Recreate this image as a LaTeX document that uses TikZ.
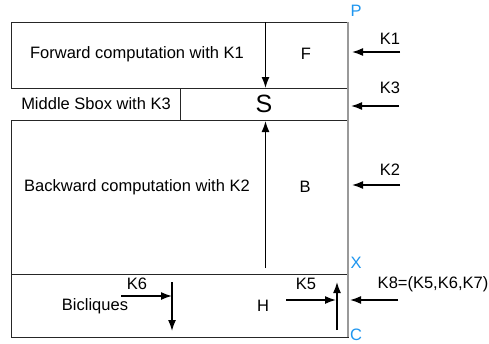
\documentclass[tikz,border=0pt]{standalone}
\usepackage{fontspec}
\setmainfont{Liberation Sans}
\usetikzlibrary{arrows.meta}
\definecolor{lblblue}{RGB}{30,150,240}
\tikzset{
  frame/.style={draw=black!85, line width=0.9pt},
  txt/.style={inner sep=0pt, font=\fontsize{16.5}{18}\selectfont},
  bigtxt/.style={inner sep=0pt, font=\fontsize{25}{27}\selectfont},
  bluetxt/.style={inner sep=0pt, text=lblblue, font=\fontsize{16.5}{18}\selectfont},
  arr/.style={-{Latex[length=11pt,width=8pt]}, line width=1.5pt, black},
}
\begin{document}
\begin{tikzpicture}[x=1pt,y=-1pt]
\useasboundingbox (0,0) rectangle (489,343);
\fill[white] (0,0) rectangle (489,343);
% frame
\draw[frame] (11,22) rectangle (348,88);
\draw[frame] (180,88) rectangle (348,120);
\draw[frame] (11,120) rectangle (348,274);
\draw[frame] (11,274) rectangle (348,337);
\draw[draw=gray!80, line width=1.3pt] (348,22) -- (348,337);
% texts
\node[txt] (fwd) at (137,54) {Forward computation with K1};
\node[txt] (F) at (306,54) {F};
\node[bigtxt] (S) at (264,104) {S};
\node[txt] (mid) at (96,104) {Middle Sbox with K3};
\node[txt] (bwd) at (137,187) {Backward computation with K2};
\node[txt] (B) at (305,187) {B};
\node[txt] (bic) at (95,306) {Bicliques};
\node[txt] (H) at (263,306) {H};
\node[txt] (k1) at (390,39) {K1};
\node[txt] (k3) at (390,88) {K3};
\node[txt] (k2) at (390,170) {K2};
\node[txt] (k8) at (433,284) {K8=(K5,K6,K7)};
\node[txt] (k6) at (137,284) {K6};
\node[txt] (k5) at (306,284) {K5};
\node[bluetxt] (P) at (356,11) {P};
\node[bluetxt] (X) at (356,263) {X};
\node[bluetxt] (C) at (356,335) {C};
% coordinates
\coordinate (dA) at (265.5,22);
\coordinate (dB) at (265.5,88);
\coordinate (uA) at (265.5,268);
\coordinate (uB) at (265.5,121);
\coordinate (k1a) at (400,52);
\coordinate (k1b) at (352,52);
\coordinate (k3a) at (399,106);
\coordinate (k3b) at (351,106);
\coordinate (k2a) at (400,185);
\coordinate (k2b) at (352,185);
\coordinate (k8a) at (398,300);
\coordinate (k8b) at (350,300);
\coordinate (k6a) at (121,296);
\coordinate (k6b) at (172,296);
\coordinate (v6a) at (172,282);
\coordinate (v6b) at (172,331);
\coordinate (k5a) at (286,300);
\coordinate (k5b) at (336,300);
\coordinate (v5a) at (337,330);
\coordinate (v5b) at (337,282);
% arrows
\draw[arr] (dA) -- (dB);
\draw[arr] (uA) -- (uB);
\draw[arr] (k1a) -- (k1b);
\draw[arr] (k3a) -- (k3b);
\draw[arr] (k2a) -- (k2b);
\draw[arr] (k8a) -- (k8b);
\draw[arr] (k6a) -- (k6b);
\draw[arr] (v6a) -- (v6b);
\draw[arr] (k5a) -- (k5b);
\draw[arr] (v5a) -- (v5b);
\end{tikzpicture}
\end{document}
